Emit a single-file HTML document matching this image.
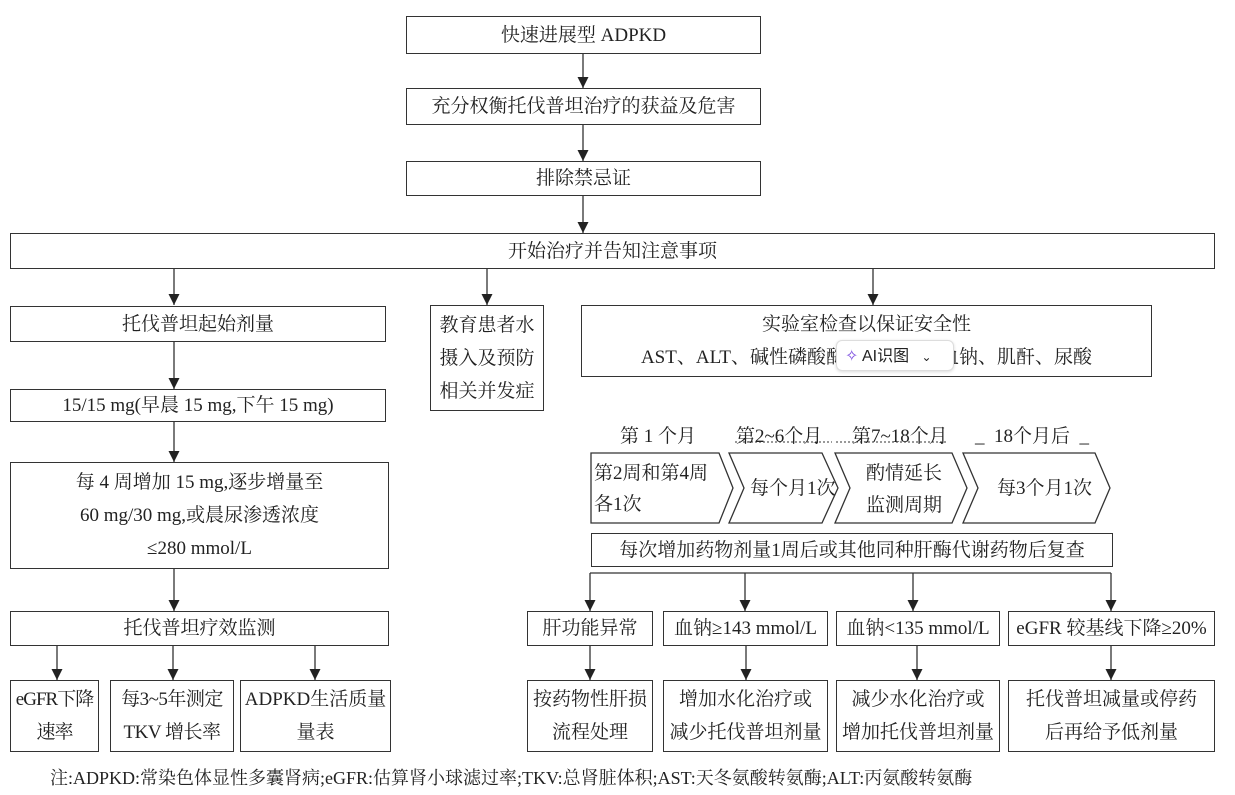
<!DOCTYPE html>
<html><head><meta charset="utf-8"><style>
body{margin:0;background:#fff;}
#c{position:relative;width:1235px;height:795px;overflow:hidden;font-family:"Liberation Serif","Noto Serif CJK SC",serif;color:#222;font-size:19px;}
.b{position:absolute;border:1.3px solid #333;box-sizing:border-box;display:flex;align-items:center;justify-content:center;text-align:center;line-height:33px;background:#fff;white-space:nowrap;}
.t{position:absolute;white-space:nowrap;}
svg{position:absolute;left:0;top:0;}
</style></head><body><div id="c">
<svg width="1235" height="795">
<defs><marker id="a" markerWidth="11" markerHeight="11" refX="11" refY="5.5" orient="auto" markerUnits="userSpaceOnUse"><path d="M0,0 L11,5.5 L0,11z" fill="#222"/></marker></defs>
<g stroke="#333" stroke-width="1.3" fill="none">
<line x1="583" y1="54" x2="583" y2="88" marker-end="url(#a)"/>
<line x1="583" y1="124" x2="583" y2="161" marker-end="url(#a)"/>
<line x1="583" y1="196" x2="583" y2="233" marker-end="url(#a)"/>
<line x1="174" y1="268" x2="174" y2="305" marker-end="url(#a)"/>
<line x1="487" y1="268" x2="487" y2="305" marker-end="url(#a)"/>
<line x1="873" y1="268" x2="873" y2="305" marker-end="url(#a)"/>
<line x1="174" y1="341" x2="174" y2="389" marker-end="url(#a)"/>
<line x1="174" y1="421" x2="174" y2="462" marker-end="url(#a)"/>
<line x1="174" y1="568" x2="174" y2="611" marker-end="url(#a)"/>
<line x1="57" y1="645" x2="57" y2="680" marker-end="url(#a)"/>
<line x1="173" y1="645" x2="173" y2="680" marker-end="url(#a)"/>
<line x1="315" y1="645" x2="315" y2="680" marker-end="url(#a)"/>
<line x1="590" y1="573" x2="1111" y2="573"/>
<line x1="590" y1="573" x2="590" y2="611" marker-end="url(#a)"/>
<line x1="745" y1="573" x2="745" y2="611" marker-end="url(#a)"/>
<line x1="913" y1="573" x2="913" y2="611" marker-end="url(#a)"/>
<line x1="1111" y1="573" x2="1111" y2="611" marker-end="url(#a)"/>
<line x1="590" y1="645" x2="590" y2="680" marker-end="url(#a)"/>
<line x1="746" y1="645" x2="746" y2="680" marker-end="url(#a)"/>
<line x1="917" y1="645" x2="917" y2="680" marker-end="url(#a)"/>
<line x1="1111" y1="645" x2="1111" y2="680" marker-end="url(#a)"/>
<path d="M591,453 L719,453 L733,488 L719,523 L591,523Z"/>
<path d="M729,453 L822,453 L838,488 L822,523 L729,523 L744,488Z"/>
<path d="M835,453 L952,453 L967,488 L952,523 L835,523 L850,488Z"/>
<path d="M963,453 L1095,453 L1110,488 L1095,523 L963,523 L978,488Z"/>
<line x1="735" y1="442" x2="832" y2="442" stroke-dasharray="2,2" stroke-width="1"/>
<line x1="836" y1="442" x2="948" y2="442" stroke-dasharray="2,2" stroke-width="1"/>
</g></svg>
<div class="b" style="left:406px;top:16px;width:355px;height:38px">快速进展型 ADPKD</div>
<div class="b" style="left:406px;top:88px;width:355px;height:37px">充分权衡托伐普坦治疗的获益及危害</div>
<div class="b" style="left:406px;top:161px;width:355px;height:35px">排除禁忌证</div>
<div class="b" style="left:10px;top:233px;width:1205px;height:36px">开始治疗并告知注意事项</div>
<div class="b" style="left:10px;top:306px;width:376px;height:36px">托伐普坦起始剂量</div>
<div class="b" style="left:10px;top:389px;width:376px;height:33px">15/15 mg(早晨 15 mg,下午 15 mg)</div>
<div class="b" style="left:10px;top:462px;width:379px;height:107px">每 4 周增加 15 mg,逐步增量至<br>60 mg/30 mg,或晨尿渗透浓度<br>≤280 mmol/L</div>
<div class="b" style="left:10px;top:611px;width:379px;height:35px">托伐普坦疗效监测</div>
<div class="b" style="left:10px;top:680px;width:89px;height:72px;letter-spacing:-1px">eGFR下降<br>速率</div>
<div class="b" style="left:110px;top:680px;width:124px;height:72px;letter-spacing:-0.5px">每3~5年测定<br>TKV 增长率</div>
<div class="b" style="left:240px;top:680px;width:151px;height:72px">ADPKD生活质量<br>量表</div>
<div class="b" style="left:430px;top:305px;width:114px;height:106px">教育患者水<br>摄入及预防<br>相关并发症</div>
<div class="b" style="left:581px;top:305px;width:571px;height:72px">实验室检查以保证安全性<br>AST、ALT、碱性磷酸酶、胆红素、血钠、肌酐、尿酸</div>
<div style="position:absolute;left:836px;top:340px;width:118px;height:31px;background:#fff;border:1px solid #ddd;border-radius:6px;box-shadow:0 1px 3px rgba(0,0,0,.15);font-family:'Liberation Sans','Noto Sans CJK SC',sans-serif;font-size:16px;line-height:31px;color:#222;box-sizing:border-box;padding-left:8px"><span style="color:#7a4be0">✧</span> AI识图 <span style="font-size:12px;margin-left:8px">⌄</span></div>
<div class="t" style="left:620px;top:421px">第 1 个月</div>
<div class="t" style="left:736px;top:421px">第2~6个月</div>
<div class="t" style="left:852px;top:421px">第7~18个月</div>
<div class="t" style="left:975px;top:421px">_ &nbsp;18个月后 &nbsp;_</div>
<div class="t" style="left:594px;top:458px;line-height:31px">第2周和第4周<br>各1次</div>
<div class="t" style="left:750px;top:473px">每个月1次</div>
<div class="t" style="left:866px;top:458px;line-height:32px">酌情延长<br>监测周期</div>
<div class="t" style="left:997px;top:473px">每3个月1次</div>
<div class="b" style="left:591px;top:533px;width:522px;height:34px">每次增加药物剂量1周后或其他同种肝酶代谢药物后复查</div>
<div class="b" style="left:527px;top:611px;width:126px;height:35px">肝功能异常</div>
<div class="b" style="left:663px;top:611px;width:165px;height:35px">血钠≥143 mmol/L</div>
<div class="b" style="left:836px;top:611px;width:164px;height:35px">血钠&lt;135 mmol/L</div>
<div class="b" style="left:1008px;top:611px;width:207px;height:35px">eGFR 较基线下降≥20%</div>
<div class="b" style="left:527px;top:680px;width:126px;height:72px">按药物性肝损<br>流程处理</div>
<div class="b" style="left:663px;top:680px;width:165px;height:72px">增加水化治疗或<br>减少托伐普坦剂量</div>
<div class="b" style="left:836px;top:680px;width:164px;height:72px">减少水化治疗或<br>增加托伐普坦剂量</div>
<div class="b" style="left:1008px;top:680px;width:207px;height:72px">托伐普坦减量或停药<br>后再给予低剂量</div>
<div class="t" style="left:50px;top:764px;font-size:18px">注:ADPKD:常染色体显性多囊肾病;eGFR:估算肾小球滤过率;TKV:总肾脏体积;AST:天冬氨酸转氨酶;ALT:丙氨酸转氨酶</div>
</div></body></html>
